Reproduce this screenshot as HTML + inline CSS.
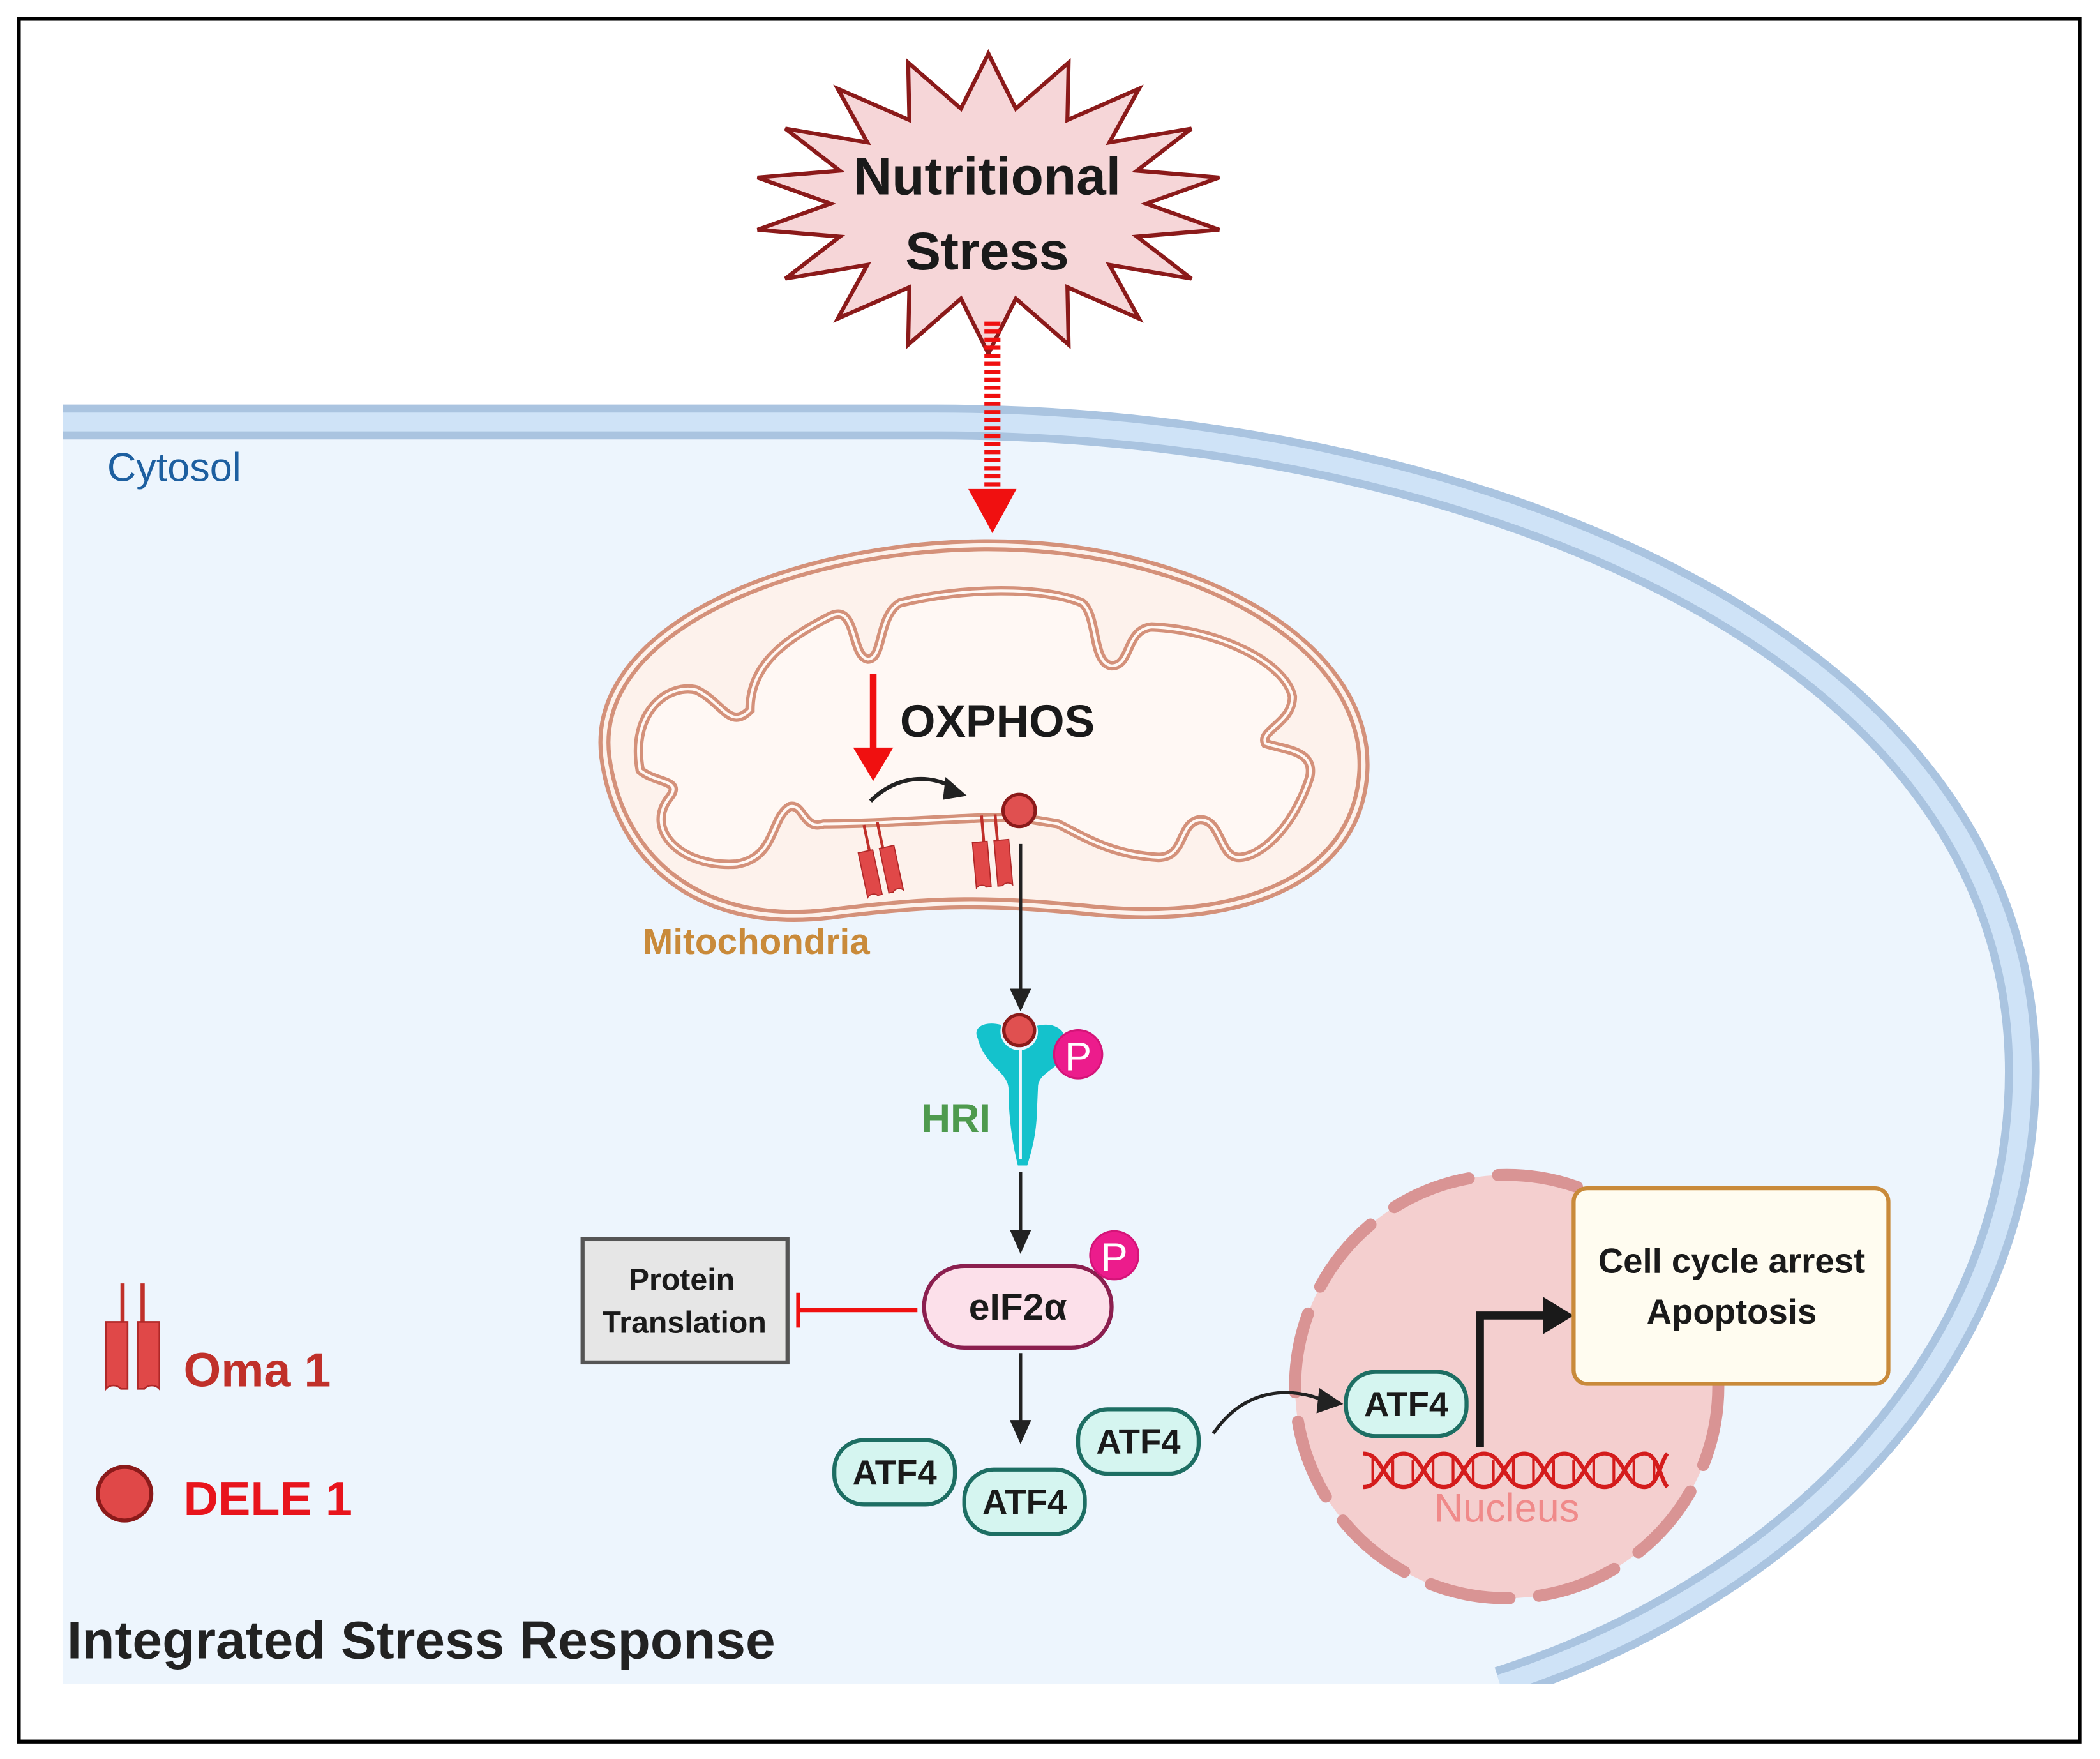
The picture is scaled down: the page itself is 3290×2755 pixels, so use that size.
<!DOCTYPE html>
<html><head><meta charset="utf-8"><style>
html,body{margin:0;padding:0;background:#fff;}
svg{display:block;}
text{font-family:"Liberation Sans",sans-serif;}
</style></head><body>
<svg width="3290" height="2755" viewBox="0 0 1568 1313" xmlns="http://www.w3.org/2000/svg">
<defs>
<clipPath id="cc"><rect x="0" y="0" width="1568" height="1257"/></clipPath>
<g id="oma">
 <line x1="-6" y1="-28" x2="-6" y2="-5" stroke="#c0302a" stroke-width="2.5"/>
 <line x1="6" y1="-28" x2="6" y2="-5" stroke="#c0302a" stroke-width="2.5"/>
 <path d="M-16,-5 h13 v40 h-4 a6,6 0 0 0 -9,0 z" fill="#e04848" stroke="#b02828" stroke-width="1"/>
 <path d="M3,-5 h13 v40 a6,6 0 0 0 -9,0 h-4 z" fill="#e04848" stroke="#b02828" stroke-width="1"/>
</g>
</defs>
<rect width="1568" height="1313" fill="#fff"/>
<rect x="14" y="14" width="1539" height="1286" fill="#fff" stroke="#000" stroke-width="3"/>
<!-- cell -->
<path d="M47,315 L700,315 C1080,315 1510,470 1510,800 C1510,1020 1330,1190 1150,1257 L47,1257 Z" fill="#edf5fd"/>
<g clip-path="url(#cc)">
<path d="M47,315 L700,315 C1080,315 1510,470 1510,800 C1510,1020 1330,1190 1120,1257" fill="none" stroke="#aac4e0" stroke-width="26"/>
<path d="M47,315 L700,315 C1080,315 1510,470 1510,800 C1510,1020 1330,1190 1120,1257" fill="none" stroke="#cfe3f7" stroke-width="14"/>
</g>
<text x="80" y="359" font-size="30" fill="#1d5fa0">Cytosol</text>
<!-- star -->
<polygon points="738,40 758.5,81.1 797.9,46.7 797,89.6 850.5,66.2 828.4,106.3 889.6,96 848.9,127.4 910.4,132.5 856,152 910.4,171.5 848.9,176.6 889.6,208 828.4,197.7 850.5,237.8 797,214.4 797.9,257.3 758.5,222.9 738,264 717.5,222.9 678.1,257.3 679,214.4 625.5,237.8 647.6,197.7 586.4,208 627.1,176.6 565.6,171.5 620,152 565.6,132.5 627.1,127.4 586.4,96 647.6,106.3 625.5,66.2 679,89.6 678.1,46.7 717.5,81.1" fill="#f6d6d8" stroke="#8b1a1a" stroke-width="3" stroke-linejoin="miter"/>
<text x="737" y="145" font-size="40" font-weight="bold" text-anchor="middle" fill="#1a1a1a">Nutritional</text>
<text x="737" y="201" font-size="40" font-weight="bold" text-anchor="middle" fill="#1a1a1a">Stress</text>
<line x1="741" y1="240" x2="741" y2="368" stroke="#f01010" stroke-width="12" stroke-dasharray="3,3"/>
<polygon points="723,365 759,365 741,398" fill="#f01010"/>
<!-- mitochondria -->
<path d="M452,565 C440,470 590,408 735,407 C890,406 1022,480 1018,575 C1014,655 930,690 820,680 C740,672 700,672 620,682 C520,694 462,640 452,565 Z" fill="#fdf2ec" stroke="#d4917a" stroke-width="9"/>
<path d="M452,565 C440,470 590,408 735,407 C890,406 1022,480 1018,575 C1014,655 930,690 820,680 C740,672 700,672 620,682 C520,694 462,640 452,565 Z" fill="none" stroke="#fdf2ec" stroke-width="3"/>
<path d="M478,575 C470,530 500,510 520,515 C540,525 545,545 560,530 C560,500 580,480 620,460 C640,450 635,490 648,492 C660,492 655,460 672,450 C720,438 780,438 808,450 C820,460 815,495 830,497 C845,497 840,470 860,468 C910,470 960,495 965,520 C965,540 940,545 945,555 C960,560 982,560 978,580 C965,620 940,640 925,640 C910,640 912,610 895,612 C880,615 885,640 865,640 C830,638 810,625 790,615 L760,610 C720,610 660,615 615,615 C600,620 600,600 590,602 C575,610 580,640 550,645 C510,648 480,620 500,595 C510,582 490,585 478,575 Z" fill="#fff8f4" stroke="#d4917a" stroke-width="7"/>
<path d="M478,575 C470,530 500,510 520,515 C540,525 545,545 560,530 C560,500 580,480 620,460 C640,450 635,490 648,492 C660,492 655,460 672,450 C720,438 780,438 808,450 C820,460 815,495 830,497 C845,497 840,470 860,468 C910,470 960,495 965,520 C965,540 940,545 945,555 C960,560 982,560 978,580 C965,620 940,640 925,640 C910,640 912,610 895,612 C880,615 885,640 865,640 C830,638 810,625 790,615 L760,610 C720,610 660,615 615,615 C600,620 600,600 590,602 C575,610 580,640 550,645 C510,648 480,620 500,595 C510,582 490,585 478,575 Z" fill="none" stroke="#fff8f4" stroke-width="2"/>
<text x="672" y="550" font-size="34" font-weight="bold" fill="#1a1a1a">OXPHOS</text>
<line x1="652" y1="503" x2="652" y2="560" stroke="#f01010" stroke-width="5"/>
<polygon points="637,558 667,558 652,583" fill="#f01010"/>
<path d="M650,598 C670,578 695,578 712,588" fill="none" stroke="#222" stroke-width="3"/>
<polygon points="706,580 722,594 704,597" fill="#222"/>
<g transform="translate(655,638) rotate(-12) scale(0.85)"><use href="#oma"/></g>
<g transform="translate(740,632) rotate(-5) scale(0.85)"><use href="#oma"/></g>
<circle cx="761" cy="605" r="12" fill="#e05050" stroke="#8b1a1a" stroke-width="2.5"/>
<text x="480" y="712" font-size="27" font-weight="bold" fill="#c98a3a">Mitochondria</text>
<line x1="762" y1="630" x2="762" y2="740" stroke="#222" stroke-width="2.5"/>
<polygon points="754,738 770,738 762,755" fill="#222"/>
<!-- HRI -->
<path d="M730,775 C725,765 740,760 755,768 L768,768 C785,760 800,768 795,785 C790,800 775,800 775,812 L774,835 C773,850 770,860 767,870 L760,870 C755,850 753,830 753,812 C752,800 735,795 730,775 Z" fill="#14c2cc"/>
<line x1="762" y1="778" x2="762" y2="865" stroke="#edf5fd" stroke-width="2"/>
<circle cx="761" cy="770" r="14" fill="#edf5fd"/>
<circle cx="761" cy="769" r="11.5" fill="#e05050" stroke="#8b1a1a" stroke-width="2.5"/>
<circle cx="805" cy="787" r="18" fill="#ec1c8c" stroke="#d41478" stroke-width="1.5"/>
<text x="805" y="799" font-size="30" fill="#fff" text-anchor="middle">P</text>
<text x="688" y="845" font-size="30" font-weight="bold" fill="#4e9a4e">HRI</text>
<line x1="762" y1="875" x2="762" y2="920" stroke="#222" stroke-width="2.5"/>
<polygon points="754,918 770,918 762,936" fill="#222"/>
<!-- eIF2a -->
<rect x="690" y="945" width="140" height="61" rx="30" fill="#fce0ea" stroke="#8b1f4f" stroke-width="3"/>
<text x="760" y="985" font-size="28" font-weight="bold" fill="#1a1a1a" text-anchor="middle">eIF2α</text>
<circle cx="832" cy="937" r="18" fill="#ec1c8c" stroke="#d41478" stroke-width="1.5"/>
<text x="832" y="949" font-size="30" fill="#fff" text-anchor="middle">P</text>
<rect x="435" y="925" width="153" height="92" fill="#e6e6e6" stroke="#555" stroke-width="3"/>
<text x="509" y="963" font-size="23" font-weight="bold" text-anchor="middle" fill="#1a1a1a">Protein</text>
<text x="511" y="995" font-size="23" font-weight="bold" text-anchor="middle" fill="#1a1a1a">Translation</text>
<line x1="685" y1="978" x2="596" y2="978" stroke="#f01010" stroke-width="3"/>
<line x1="596" y1="965" x2="596" y2="991" stroke="#f01010" stroke-width="3"/>
<line x1="762" y1="1010" x2="762" y2="1062" stroke="#222" stroke-width="2.5"/>
<polygon points="754,1060 770,1060 762,1078" fill="#222"/>
<!-- nucleus -->
<circle cx="1125" cy="1035" r="158" fill="#f4cfcf"/>
<circle cx="1125" cy="1035" r="158" fill="none" stroke="#d99494" stroke-width="9" stroke-dasharray="60,22" stroke-linecap="round"/>
<!-- ATF4 pills -->
<g font-size="26" font-weight="bold" fill="#1a1a1a" text-anchor="middle">
<rect x="623" y="1075" width="90" height="48" rx="22" fill="#d5f5f0" stroke="#1d6e63" stroke-width="3"/><text x="668" y="1108">ATF4</text>
<rect x="720" y="1097" width="90" height="48" rx="22" fill="#d5f5f0" stroke="#1d6e63" stroke-width="3"/><text x="765" y="1130">ATF4</text>
<rect x="805" y="1052" width="90" height="48" rx="22" fill="#d5f5f0" stroke="#1d6e63" stroke-width="3"/><text x="850" y="1085">ATF4</text>
<rect x="1005" y="1024" width="90" height="48" rx="22" fill="#d5f5f0" stroke="#1d6e63" stroke-width="3"/><text x="1050" y="1057">ATF4</text>
</g>
<path d="M906,1070 C930,1035 965,1035 990,1046" fill="none" stroke="#222" stroke-width="2.5"/>
<polygon points="985,1036 1003,1048 983,1055" fill="#222"/>
<!-- DNA -->
<g stroke="#d41c1c" stroke-width="3" fill="none">
<path d="M1018,1085 C1033,1085 1033,1110 1048,1110 C1063,1110 1063,1085 1078,1085 C1093,1085 1093,1110 1108,1110 C1123,1110 1123,1085 1138,1085 C1153,1085 1153,1110 1168,1110 C1183,1110 1183,1085 1198,1085 C1213,1085 1213,1110 1228,1110 C1238,1110 1240,1090 1245,1085"/>
<path d="M1018,1110 C1033,1110 1033,1085 1048,1085 C1063,1085 1063,1110 1078,1110 C1093,1110 1093,1085 1108,1085 C1123,1085 1123,1110 1138,1110 C1153,1110 1153,1085 1168,1085 C1183,1085 1183,1110 1198,1110 C1213,1110 1213,1085 1228,1085 C1238,1085 1240,1105 1245,1110"/>
<path d="M1025,1087v20M1040,1090v16M1055,1090v16M1070,1087v20M1085,1087v20M1100,1090v16M1115,1090v16M1130,1087v20M1145,1087v20M1160,1090v16M1175,1090v16M1190,1087v20M1205,1087v20M1220,1090v16M1235,1088v18" stroke-width="2"/>
</g>
<text x="1125" y="1136" font-size="30" fill="#f08a8a" text-anchor="middle">Nucleus</text>
<path d="M1105,1080 L1105,982 L1155,982" fill="none" stroke="#1a1a1a" stroke-width="6"/>
<polygon points="1152,968 1175,982 1152,996" fill="#1a1a1a"/>
<rect x="1175" y="887" width="235" height="146" rx="10" fill="#fffcf0" stroke="#c98a3a" stroke-width="3"/>
<text x="1293" y="950" font-size="26" font-weight="bold" text-anchor="middle" fill="#1a1a1a">Cell cycle arrest</text>
<text x="1293" y="988" font-size="26" font-weight="bold" text-anchor="middle" fill="#1a1a1a">Apoptosis</text>
<!-- legend -->
<g transform="translate(99,993) scale(1.25)"><use href="#oma"/></g>
<text x="137" y="1035" font-size="36" font-weight="bold" fill="#c0302a">Oma 1</text>
<circle cx="93" cy="1115" r="20" fill="#e04848" stroke="#8b1a1a" stroke-width="3"/>
<text x="137" y="1131" font-size="36" font-weight="bold" fill="#e8141c">DELE 1</text>
<text x="50" y="1238" font-size="40" font-weight="bold" fill="#222">Integrated Stress Response</text>
</svg>
</body></html>
